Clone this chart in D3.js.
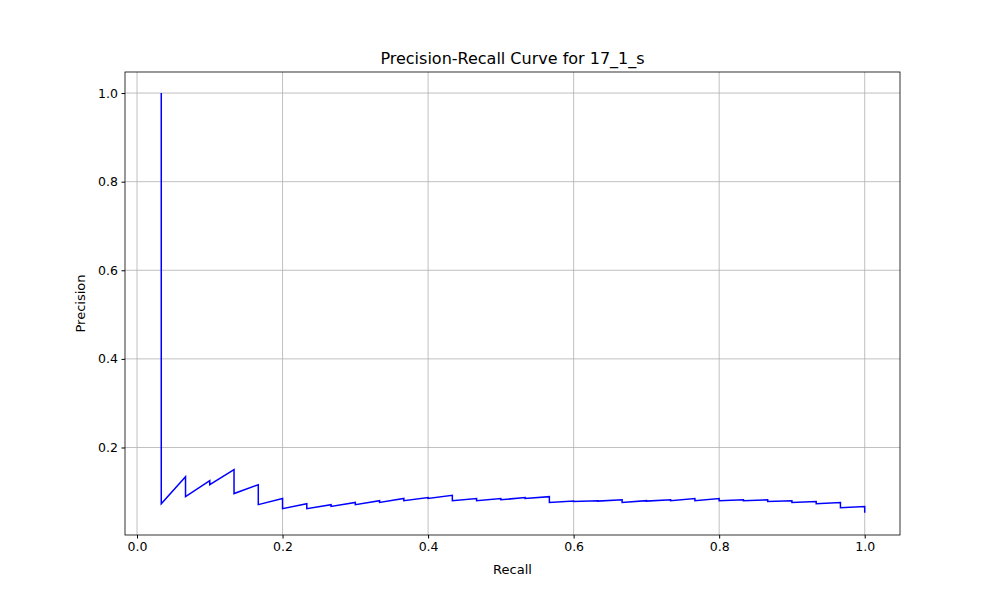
<!DOCTYPE html>
<html><head><meta charset="utf-8">
<script src="https://cdn.jsdelivr.net/npm/d3@7"></script>
<style>body{margin:0;background:#fff}text{font-family:"DejaVu Sans",sans-serif}</style>
</head><body>
<svg id="c" width="1000" height="600"></svg>
<script>
const recallSteps = [1,2,3,4,5,6,7,8,9,10,11,12,13,14,15,16,17,18,19,20,21,22,23,24,25,26,27,28,29,30];
const precisionTop = [1.0,0.134,0.125,0.150,0.116,0.085,0.073,0.071,0.076,0.080,0.085,0.087,0.092,0.085,0.085,0.087,0.089,0.079,0.080,0.082,0.080,0.082,0.085,0.085,0.082,0.082,0.080,0.078,0.076,0.067];
const precisionBottom = [0.073,0.089,0.116,0.096,0.071,0.062,0.062,0.067,0.071,0.076,0.080,0.085,0.080,0.080,0.082,0.085,0.076,0.078,0.079,0.076,0.079,0.080,0.080,0.080,0.080,0.078,0.076,0.073,0.064,0.053];
const xTicks=[0,0.2,0.4,0.6,0.8,1.0], yTicks=[0.2,0.4,0.6,0.8,1.0];
const pts=[];
recallSteps.forEach((k,i)=>{const r=k/30;pts.push([r,precisionTop[i]]);pts.push([r,precisionBottom[i]]);});
const L=125,R=900,T=72,B=535;
const x=d3.scaleLinear().domain([-0.0165,1.0485]).range([L,R]);
const y=d3.scaleLinear().domain([0.0025,1.0475]).range([B,T]);
const svg=d3.select("#c");
const g=svg.append("g");
xTicks.forEach(t=>g.append("line").attr("x1",x(t)).attr("x2",x(t)).attr("y1",T).attr("y2",B).attr("stroke","#b0b0b0").attr("stroke-width",0.8));
yTicks.forEach(t=>g.append("line").attr("y1",y(t)).attr("y2",y(t)).attr("x1",L).attr("x2",R).attr("stroke","#b0b0b0").attr("stroke-width",0.8));
svg.append("path").datum(pts).attr("fill","none").attr("stroke","blue").attr("stroke-width",1.5)
 .attr("d",d3.line().x(d=>x(d[0])).y(d=>y(d[1])));
svg.append("rect").attr("x",L).attr("y",T).attr("width",R-L).attr("height",B-T).attr("fill","none").attr("stroke","#000").attr("stroke-width",0.8);
svg.append("g").attr("transform",`translate(0,${B})`).call(d3.axisBottom(x).tickValues(xTicks).tickFormat(d3.format(".1f")).tickSizeOuter(0).tickSize(3.5).tickPadding(3.5))
 .call(a=>{a.select(".domain").remove();a.selectAll("text").attr("font-size",12.5).attr("fill","#000");});
svg.append("g").attr("transform",`translate(${L},0)`).call(d3.axisLeft(y).tickValues(yTicks).tickFormat(d3.format(".1f")).tickSizeOuter(0).tickSize(3.5).tickPadding(3.5))
 .call(a=>{a.select(".domain").remove();a.selectAll("text").attr("font-size",12.5).attr("fill","#000");});
svg.append("text").attr("x",(L+R)/2).attr("y",574).attr("text-anchor","middle").attr("font-size",13).text("Recall");
svg.append("text").attr("transform",`translate(85,${(T+B)/2}) rotate(-90)`).attr("text-anchor","middle").attr("font-size",13).text("Precision");
svg.append("text").attr("x",(L+R)/2).attr("y",64).attr("text-anchor","middle").attr("font-size",16).text("Precision-Recall Curve for 17_1_s");
</script></body></html>
